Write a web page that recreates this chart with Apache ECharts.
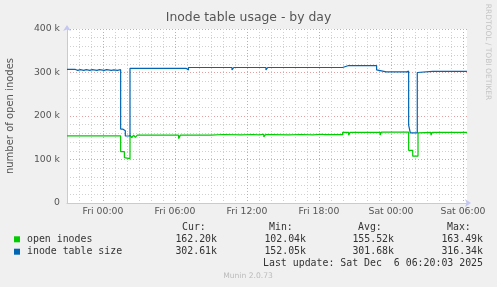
<!DOCTYPE html>
<html>
<head>
<meta charset="utf-8">
<script src="https://cdn.jsdelivr.net/npm/echarts@6/dist/echarts.min.js"></script>
<style>html,body{margin:0;padding:0;background:#f0f0f0;}#c{width:497px;height:287px;}</style>
</head>
<body>
<div id="c"></div>
<script>
// Hours relative to Fri 00:00; values in thousands (k)
const openTimes  = [-3, 1.47, 1.78, 1.92, 2.25, 2.4, 2.55, 2.7, 2.85, 6.3, 6.45, 7.0, 7.1, 9.0, 10.0, 11.5, 12.5, 13.0, 13.4, 13.55, 14.0, 15.5, 16.5, 17.5, 18.2, 18.3, 18.5, 19.97, 20.47, 20.6, 23.1, 23.2, 25.47, 25.81, 26.25, 26.4, 27.33, 27.45, 30.33];
const openValues = [154.5, 118, 104.5, 102, 156, 150.5, 156, 151, 156, 148, 156, 152, 156, 157.5, 156.5, 157.5, 156.5, 158, 152, 157, 156.5, 157.5, 156.5, 158, 154, 157, 157, 162.5, 156, 162.5, 156, 162.8, 121, 107.6, 161, 162.5, 156, 162.5, 162.2];

const sizeTimes  = [-3, -2.3, -2.1, -1.9, -1.6, -1.4, -1.1, -0.9, -0.5, -0.3, 0.1, 0.3, 0.7, 0.9, 1.2, 1.47, 1.64, 1.86, 2.25, 2.45, 2.6, 2.95, 3.1, 6.36, 6.5, 6.92, 7.0, 7.12, 10.75, 10.9, 13.58, 13.73, 16.42, 16.55, 19.97, 20.47, 20.6, 22.8, 22.95, 23.6, 23.75, 24.5, 24.6, 24.85, 25.0, 25.3, 25.47, 25.61, 26.19, 26.35, 27.47, 27.6, 28.7, 28.85, 30.33];
const sizeValues = [307, 305, 306.5, 305, 306.5, 305, 306.5, 305, 306.5, 305, 306.5, 305, 306, 305, 306.5, 170, 166, 154, 309.5, 307, 309.5, 307, 309.5, 305, 309.5, 311.5, 306, 311.5, 306, 311.5, 306, 311.5, 308, 311.5, 316, 312, 316, 306, 301.5, 303, 301.5, 303, 301.5, 303, 301.5, 303, 179, 161, 300, 302.5, 300, 302.5, 304, 302.5, 302.6];

const xTickHours  = [0, 6, 12, 18, 24, 30];
const xTickLabels = ['Fri 00:00', 'Fri 06:00', 'Fri 12:00', 'Fri 18:00', 'Sat 00:00', 'Sat 06:00'];
const yTickValues = [0, 100, 200, 300, 400];
const yTickLabels = ['0', '100 k', '200 k', '300 k', '400 k'];

const seriesNames = ['open inodes', 'inode table size'];
const seriesColors = ['#00cc00', '#0066b3'];
const statHeaders = ['Cur:', 'Min:', 'Avg:', 'Max:'];
const openStats = ['162.20k', '102.04k', '155.52k', '163.49k'];
const sizeStats = ['302.61k', '152.05k', '301.68k', '316.34k'];
const lastUpdate = 'Last update: Sat Dec  6 06:20:03 2025';
const munin = 'Munin 2.0.73';
const watermark = 'RRDTOOL / TOBI OETIKER';

const pairs = (t, v) => t.map((x, i) => [x, v[i]]);

const GRAY = '#d0d0d0', RED = '#e2a0a0';
const mono = 'DejaVu Sans Mono';
const sans = 'DejaVu Sans';

const headerX = [182, 269, 358, 447];
const valueRight = [217, 306, 394, 483];
const graphics = [];
statHeaders.forEach((h, i) => graphics.push({type: 'text', x: headerX[i], y: 227.7, style: {text: h, font: '9.9px ' + mono, fill: '#333', verticalAlign: 'middle'}}));
[openStats, sizeStats].forEach((row, r) => row.forEach((s, i) => graphics.push({type: 'text', x: valueRight[i], y: 239.3 + r * 12.4, style: {text: s, font: '9.9px ' + mono, fill: '#333', align: 'right', verticalAlign: 'middle'}})));
graphics.push({type: 'text', x: 483, y: 263.7, style: {text: lastUpdate, font: '9.9px ' + mono, fill: '#333', align: 'right', verticalAlign: 'middle'}});
graphics.push({type: 'text', x: 248, y: 275.7, style: {text: munin, font: '7.6px ' + sans, fill: '#bbbbbb', align: 'center', verticalAlign: 'middle'}});
graphics.push({type: 'text', x: 488, y: 52, rotation: -Math.PI / 2, style: {text: watermark, font: '7.5px ' + sans, fill: '#c4c4c4', align: 'center', verticalAlign: 'middle'}});

const chart = echarts.init(document.getElementById('c'), null, {renderer: 'canvas'});
chart.setOption({
  animation: false,
  backgroundColor: '#f0f0f0',
  title: {text: 'Inode table usage - by day', left: 'center', top: 12, textStyle: {fontFamily: sans, fontSize: 12.4, fontWeight: 'normal', color: '#555'}, padding: 0},
  legend: {
    orient: 'vertical', left: 14, top: 233.1, padding: 0, itemGap: 0,
    itemWidth: 6, itemHeight: 6, icon: 'rect',
    textStyle: {fontFamily: mono, fontSize: 9.9, lineHeight: 12.4, color: '#333', padding: [0, 0, 0, 2]},
    data: seriesNames
  },
  grid: {left: 67, right: 30, top: 29, bottom: 84, show: true, backgroundColor: '#ffffff', borderWidth: 0, containLabel: false, outerBoundsMode: 'none'},
  xAxis: {
    type: 'value', min: -3, max: 30.3333, interval: 1,
    axisLine: {show: true, onZero: false, lineStyle: {color: '#c4c8f0', width: 1}, symbol: ['none', 'arrow'], symbolSize: [6, 6], symbolOffset: [0, 4]},
    axisTick: {show: false},
    axisLabel: {
      margin: 4, fontFamily: sans, fontSize: 9.3, color: '#555', showMinLabel: true, showMaxLabel: false,
      formatter: v => { const i = xTickHours.indexOf(v); return i >= 0 ? xTickLabels[i] : ''; }
    },
    splitLine: {show: true, showMaxLine: false, lineStyle: {color: [GRAY, GRAY, GRAY, RED, GRAY, GRAY], type: [1, 2], width: 1}}
  },
  yAxis: {
    type: 'value', min: 0, max: 400, interval: 20,
    name: 'number of open inodes', nameLocation: 'middle', nameGap: 52,
    nameTextStyle: {fontFamily: sans, fontSize: 10, color: '#555'},
    axisLine: {show: true, onZero: false, lineStyle: {color: '#c4c8f0', width: 1}, symbol: ['none', 'arrow'], symbolSize: [6, 6], symbolOffset: [0, 4]},
    axisTick: {show: false},
    axisLabel: {
      margin: 7, fontFamily: sans, fontSize: 9.3, color: '#555',
      formatter: v => { const i = yTickValues.indexOf(v); return i >= 0 ? yTickLabels[i] : ''; }
    },
    splitLine: {show: true, lineStyle: {color: [RED, GRAY, GRAY, GRAY, GRAY], type: [1, 2], width: 1}}
  },
  series: [
    {name: seriesNames[0], type: 'line', step: 'end', showSymbol: false, data: pairs(openTimes, openValues), lineStyle: {color: seriesColors[0], width: 1.2}, itemStyle: {color: seriesColors[0]}},
    {name: seriesNames[1], type: 'line', step: 'end', showSymbol: false, data: pairs(sizeTimes, sizeValues), lineStyle: {color: seriesColors[1], width: 1.2}, itemStyle: {color: seriesColors[1]}}
  ],
  graphic: graphics
});
</script>
</body>
</html>
